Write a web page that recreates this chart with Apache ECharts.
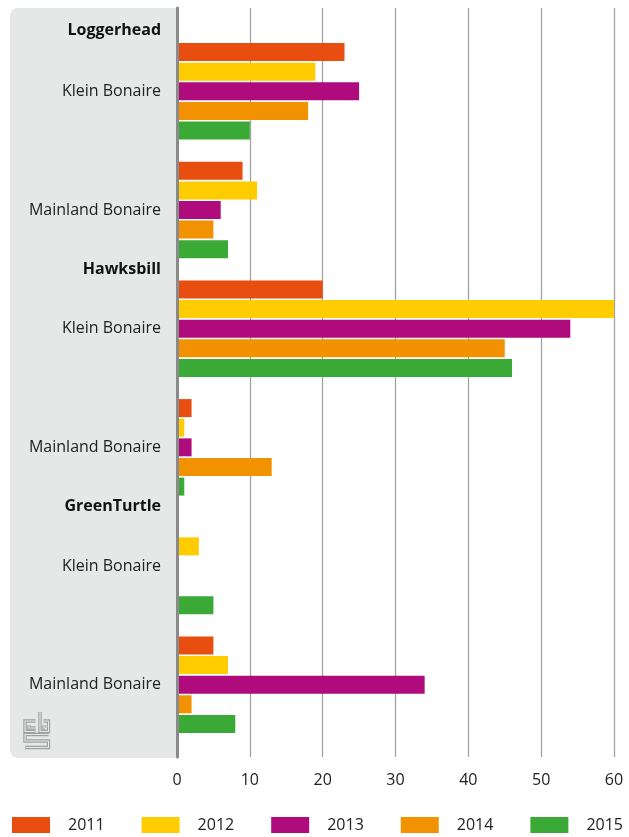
<!DOCTYPE html>
<html>
<head>
<meta charset="utf-8">
<script src="https://cdn.jsdelivr.net/npm/echarts@6/dist/echarts.min.js"></script>
<style>
  html, body { margin: 0; padding: 0; background: #fff; }
  #main { width: 629px; height: 837px; }
</style>
</head>
<body>
<div id="main"></div>
<script>
// sea turtle nests per species and location
const groups = ['Loggerhead', 'Hawksbill', 'GreenTurtle'];
const places = ['Klein Bonaire', 'Mainland Bonaire', 'Klein Bonaire', 'Mainland Bonaire', 'Klein Bonaire', 'Mainland Bonaire'];
const years = ['2011', '2012', '2013', '2014', '2015'];
const v2011 = [23, 9, 20, 2, 0, 5];
const v2012 = [19, 11, 60, 1, 3, 7];
const v2013 = [25, 6, 54, 2, 0, 34];
const v2014 = [18, 5, 45, 13, 0, 2];
const v2015 = [10, 7, 46, 1, 5, 8];
const xTicks = [0, 10, 20, 30, 40, 50, 60];

const values = [v2011, v2012, v2013, v2014, v2015];
const colors = ['#e84e0f', '#ffcc00', '#af0b7c', '#f39200', '#3aa935'];
const FONT = 'Open Sans';

const chart = echarts.init(document.getElementById('main'));

const option = {
    animation: false,
    textStyle: {fontFamily: FONT},
    color: colors,
    grid: [
        {left: 177, right: 15, top: 8, bottom: 80},
        {left: 177, right: 15, top: 32, bottom: 93}
    ],
    xAxis: [{
        gridIndex: 0,
        type: 'value',
        min: xTicks[0],
        max: xTicks[xTicks.length - 1],
        interval: 10,
        axisLine: {show: false},
        axisTick: {show: false},
        axisLabel: {color: '#222', fontSize: 16, margin: 15, fontFamily: FONT},
        splitLine: {lineStyle: {color: '#a3a3a3', width: 1.3}}
    }, {
        gridIndex: 1,
        type: 'value',
        min: xTicks[0],
        max: xTicks[xTicks.length - 1],
        show: false
    }],
    yAxis: [{
        gridIndex: 0,
        type: 'value',
        axisLine: {show: true, lineStyle: {color: '#8a8a8a', width: 3}},
        axisTick: {show: false},
        axisLabel: {show: false},
        splitLine: {show: false},
        z: 5
    }, {
        gridIndex: 1,
        type: 'category',
        inverse: true,
        data: places,
        axisLine: {show: false},
        axisTick: {show: false},
        axisLabel: {color: '#222', fontSize: 16, margin: 16, fontFamily: FONT}
    }],
    legend: {
        left: 12,
        top: 817,
        width: 626,
        padding: 0,
        icon: 'rect',
        itemWidth: 38,
        itemHeight: 16,
        itemGap: 37,
        data: years,
        textStyle: {color: '#222', fontSize: 16, padding: [0, 0, 0, 13], fontFamily: FONT}
    },
    series: years.map((y, i) => ({
        name: y,
        type: 'bar',
        xAxisIndex: 1,
        yAxisIndex: 1,
        barWidth: 18,
        barGap: '9%',
        data: values[i]
    }))
};

chart.setOption(option);

// grey label panel, cbs logo and group headers
const p0 = chart.convertToPixel({yAxisIndex: 1}, 0);
const p1 = chart.convertToPixel({yAxisIndex: 1}, 1);
const band = p1 - p0;

const logoPaths = [
    [[35.5, 721], [25, 721], [25, 731.5], [35.5, 731.5]],
    [[40, 712], [40, 731.5], [48.5, 731.5], [48.5, 721], [43.5, 721]],
    [[44, 725], [44, 728], [45, 728]],
    [[29, 725], [29, 728], [35.5, 728]],
    [[48.5, 734.5], [25, 734.5], [25, 741], [48.5, 741], [48.5, 747.5], [25, 747.5]]
];

const graphics = [{
    type: 'rect',
    left: 10, top: 8, z: -10,
    shape: {width: 166, height: 750, r: [8, 0, 0, 8]},
    style: {fill: '#e6e7e7'}
}];
logoPaths.forEach(pts => {
    graphics.push({type: 'polyline', z: -5, shape: {points: pts},
        style: {stroke: '#a0a0a0', lineWidth: 3.4, fill: null}});
    graphics.push({type: 'polyline', z: -4, shape: {points: pts},
        style: {stroke: '#e6e7e7', lineWidth: 1.1, fill: null}});
});
groups.forEach((g, i) => {
    const c = chart.convertToPixel({yAxisIndex: 1}, i * 2);
    const y = i === 0 ? c - band * 0.51 : (chart.convertToPixel({yAxisIndex: 1}, i * 2 - 1) + c) / 2;
    graphics.push({
        type: 'text',
        z: 10,
        x: 161,
        y: y,
        style: {
            text: g,
            fill: '#111',
            font: 'bold 16px "' + FONT + '"',
            align: 'right',
            verticalAlign: 'middle'
        }
    });
});

chart.setOption({graphic: graphics});
</script>
</body>
</html>
